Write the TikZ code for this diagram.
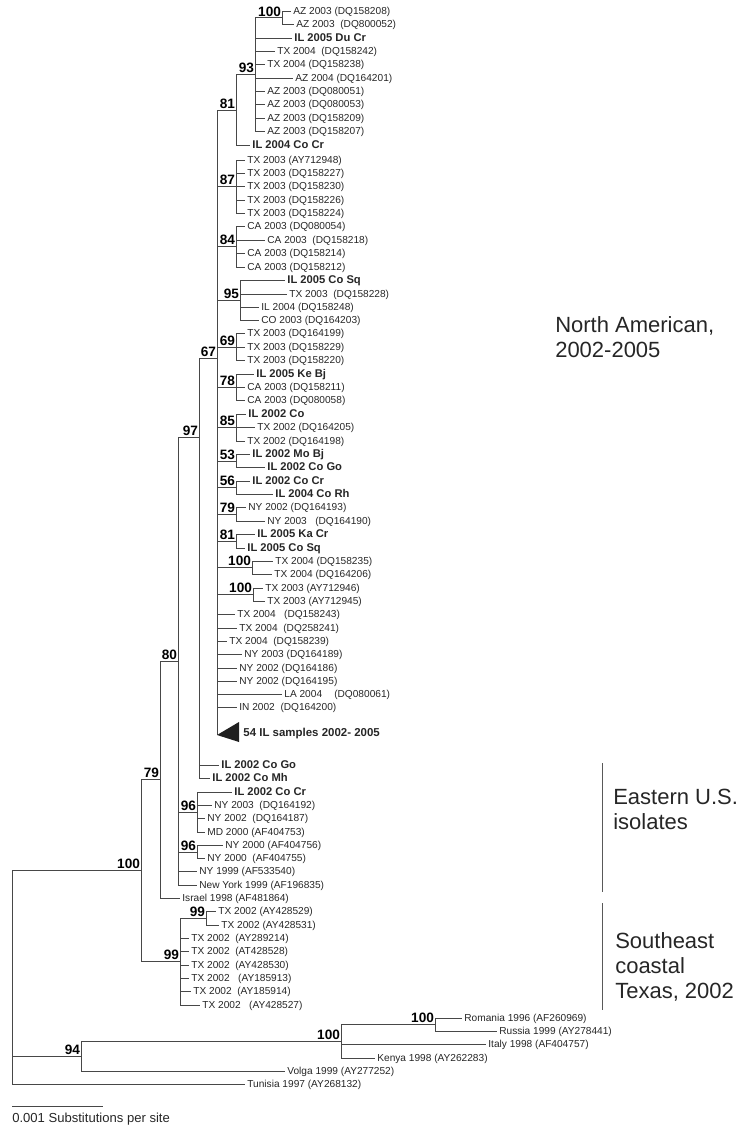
\documentclass[tikz,border=0pt]{standalone}
\usepackage{fontspec}
\setmainfont{Liberation Sans}
\newcommand{\strain}[1]{{\fontsize{8.4}{10}\selectfont\bfseries #1}}
\tikzset{
  br/.style={draw=black!72, line width=0.65pt},
  leaf/.style={anchor=west, inner xsep=1.6pt, inner ysep=0pt, text height=5.4pt, text depth=0pt, text=black!85, font=\fontsize{7.6}{9}\selectfont},
  boot/.style={anchor=south east, inner xsep=0.6pt, inner ysep=0.5pt, font=\fontsize{10.2}{11}\selectfont\bfseries},
  region/.style={anchor=west, align=left, inner sep=0pt, text=black!85, font=\fontsize{16.5}{18.8}\selectfont},
}
\begin{document}
\begin{tikzpicture}[x=0.75pt, y=-0.75pt]
\useasboundingbox (0,0) rectangle (737,1131);
% Internal nodes
\coordinate (nR) at (12,870);
\coordinate (n100) at (141,870);
\coordinate (n79) at (160,779);
\coordinate (n80) at (178,661);
\coordinate (n97) at (199,437);
\coordinate (n67) at (217,358);
\coordinate (n81) at (236,110);
\coordinate (n93) at (255,74);
\coordinate (n100a) at (282,17.5);
\coordinate (n87) at (236,186);
\coordinate (n84) at (236,246);
\coordinate (n95) at (240,300);
\coordinate (n69) at (236,347);
\coordinate (n78) at (236,387);
\coordinate (n85) at (236,427);
\coordinate (n53) at (236,461);
\coordinate (n56) at (236,487);
\coordinate (n79b) at (236,514);
\coordinate (n81b) at (236,541);
\coordinate (n100b) at (252,567);
\coordinate (n100c) at (253,594);
\coordinate (tri) at (217,735);
\coordinate (n96a) at (197,812);
\coordinate (n96b) at (197,852);
\coordinate (n99) at (180,961);
\coordinate (n99a) at (206,918);
\coordinate (n94) at (81,1056);
\coordinate (n100d) at (341,1041);
\coordinate (n100e) at (435,1024);
% Inner branches
\foreach \p/\c in {nR/n100, nR/n94, n100/n79, n100/n99, n79/n80, n80/n97, n80/n96a, n80/n96b,
    n97/n67, n67/n81, n81/n93, n93/n100a, n67/n87, n67/n84, n67/n95, n67/n69, n67/n78, n67/n85,
    n67/n53, n67/n56, n67/n79b, n67/n81b, n67/n100b, n67/n100c, n67/tri, n99/n99a, n94/n100d, n100d/n100e}
  \draw[br] (\p) |- (\c);
% Bootstrap values
\foreach \c/\v in {n100/100, n79/79, n80/80, n97/97, n67/67, n81/81, n93/93, n100a/100, n87/87, n84/84,
    n95/95, n69/69, n78/78, n85/85, n53/53, n56/56, n79b/79, n81b/81, n100b/100, n100c/100,
    n96a/96, n96b/96, n99/99, n99a/99, n94/94, n100d/100, n100e/100}
  \node[boot] (b\c) at (\c) {\v};
% Leaves: name/y/branch end/label/parent
\foreach \n/\y/\e/\lab/\p in {
    a1/11/291/AZ 2003 (DQ158208)/n100a, a2/24/294/AZ 2003\ \ (DQ800052)/n100a,
    a3/38/292/\strain{IL 2005 Du Cr}/n93, a4/51/275/TX 2004\ \ (DQ158242)/n93,
    a5/64/265/TX 2004 (DQ158238)/n93, a6/78/293/AZ 2004 (DQ164201)/n93,
    a7/91/265/AZ 2003 (DQ080051)/n93, a8/104/265/AZ 2003 (DQ080053)/n93,
    a9/118/265/AZ 2003 (DQ158209)/n93, a10/131/265/AZ 2003 (DQ158207)/n93,
    a11/145/250/\strain{IL 2004 Co Cr}/n81,
    b1/160/245/TX 2003 (AY712948)/n87, b2/173/245/TX 2003 (DQ158227)/n87,
    b3/186/245/TX 2003 (DQ158230)/n87, b4/200/245/TX 2003 (DQ158226)/n87,
    b5/213/245/TX 2003 (DQ158224)/n87,
    c1/226/245/CA 2003 (DQ080054)/n84, c2/240/265/CA 2003\ \ (DQ158218)/n84,
    c3/253/245/CA 2003 (DQ158214)/n84, c4/267/245/CA 2003 (DQ158212)/n84,
    d1/280/285/\strain{IL 2005 Co Sq}/n95, d2/294/287/TX 2003\ \ (DQ158228)/n95,
    d3/307/259/IL 2004 (DQ158248)/n95, d4/320/259/CO 2003 (DQ164203)/n95,
    e1/333/245/TX 2003 (DQ164199)/n69, e2/347/245/TX 2003 (DQ158229)/n69,
    e3/360/245/TX 2003 (DQ158220)/n69,
    f1/374/254/\strain{IL 2005 Ke Bj}/n78, f2/387/245/CA 2003 (DQ158211)/n78,
    f3/400/245/CA 2003 (DQ080058)/n78,
    g1/414/246/\strain{IL 2002 Co}/n85, g2/427/255/TX 2002 (DQ164205)/n85,
    g3/441/245/TX 2002 (DQ164198)/n85,
    h1/454/250/\strain{IL 2002 Mo Bj}/n53, h2/467/265/\strain{IL 2002 Co Go}/n53,
    h3/481/250/\strain{IL 2002 Co Cr}/n56, h4/494/273/\strain{IL 2004 Co Rh}/n56,
    h5/507/246/NY 2002 (DQ164193)/n79b, h6/521/265/NY 2003\ \ \ (DQ164190)/n79b,
    h7/534/255/\strain{IL 2005 Ka Cr}/n81b, h8/548/245/\strain{IL 2005 Co Sq}/n81b,
    h9/561/273/TX 2004 (DQ158235)/n100b, h10/574/272/TX 2004 (DQ164206)/n100b,
    h11/588/263/TX 2003 (AY712946)/n100c, h12/601/265/TX 2003 (AY712945)/n100c,
    i1/614/235/TX 2004\ \ \ (DQ158243)/n67, i2/628/237/TX 2004\ \ (DQ258241)/n67,
    i3/641/227/TX 2004\ \ (DQ158239)/n67, i4/654/242/NY 2003 (DQ164189)/n67,
    i5/668/237/NY 2002 (DQ164186)/n67, i6/681/237/NY 2002 (DQ164195)/n67,
    i7/694/282/LA 2004\hspace{7pt} (DQ080061)/n67, i8/707/237/IN 2002\ \ (DQ164200)/n67,
    j1/765/219/\strain{IL 2002 Co Go}/n97, j2/778/210/\strain{IL 2002 Co Mh}/n97,
    k1/792/232/\strain{IL 2002 Co Cr}/n96a, k2/805/212/NY 2003\ \ (DQ164192)/n96a,
    k3/818/205/NY 2002\ \ (DQ164187)/n96a, k4/832/205/MD 2000 (AF404753)/n96a,
    k5/845/223/NY 2000 (AF404756)/n96b, k6/858/205/NY 2000\ \ (AF404755)/n96b,
    k7/871/197/NY 1999 (AF533540)/n80, k8/885/197/New York 1999 (AF196835)/n80,
    m1/898/180/Israel 1998 (AF481864)/n79,
    p1/911/216/TX 2002 (AY428529)/n99a, p2/925/219/TX 2002 (AY428531)/n99a,
    p3/938/189/TX 2002\ \ (AY289214)/n99, p4/951/189/TX 2002\ \ (AT428528)/n99,
    p5/965/189/TX 2002\ \ (AY428530)/n99, p6/978/189/TX 2002\ \ \ (AY185913)/n99,
    p7/991/191/TX 2002\ \ (AY185914)/n99, p8/1005/200/TX 2002\ \ \ (AY428527)/n99,
    q1/1018/462/Romania 1996 (AF260969)/n100e, q2/1031/497/Russia 1999 (AY278441)/n100e,
    q3/1044/486/Italy 1998 (AF404757)/n100d, q4/1058/375/Kenya 1998 (AY262283)/n100d,
    q5/1071/285/Volga 1999 (AY277252)/n94, q6/1084/245/Tunisia 1997 (AY268132)/nR}
  {\node[leaf] (\n) at (\e,\y) {\lab};
   \draw[br] (\p) |- (\n.west);}
% Collapsed clade
\fill[black!88] (tri) -- (239,722) -- (239,742) -- cycle;
\node[leaf, font=\fontsize{8.6}{10}\selectfont\bfseries] (trilab) at (241,733) {54 IL samples 2002- 2005};
% Groups
\node[region] (gNA) at (555,337) {North American,\\2002-2005};
\coordinate (e1) at (602,763);
\coordinate (e2) at (602,892);
\draw[black!65, line width=0.6pt] (e1) -- (e2);
\node[region] (gEUS) at (613,809) {Eastern U.S.\\isolates};
\coordinate (t1) at (602,903);
\coordinate (t2) at (602,1010);
\draw[black!65, line width=0.6pt] (t1) -- (t2);
\node[region] (gTX) at (615,967) {Southeast\\coastal\\Texas, 2002};
% Scale bar
\coordinate (s1) at (12,1106);
\coordinate (s2) at (103,1106);
\draw[br] (s1) -- (s2);
\node[anchor=west, inner sep=0pt, text=black!85, font=\fontsize{9.8}{11}\selectfont] (sbar) at (12,1119) {0.001 Substitutions per site};
\end{tikzpicture}
\end{document}
